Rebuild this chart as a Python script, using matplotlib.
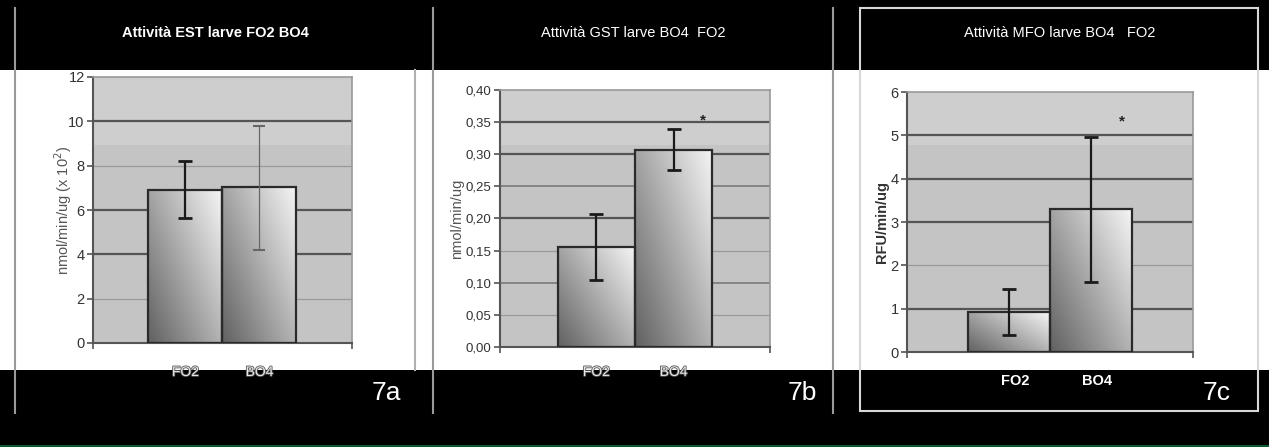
import numpy as np
import matplotlib
matplotlib.use('Agg')
import matplotlib.pyplot as plt
import matplotlib.patheffects as pe
from matplotlib.patches import Rectangle
from matplotlib.lines import Line2D

plt.rcParams['font.family'] = ['Liberation Sans', 'DejaVu Sans']

# data
groups = ['FO2', 'BO4']

est_mean = [6.9, 7.05]
est_low = [5.65, 4.2]
est_high = [8.2, 9.8]

gst_mean = [0.155, 0.307]
gst_low = [0.105, 0.275]
gst_high = [0.207, 0.340]

mfo_mean = [0.92, 3.3]
mfo_low = [0.40, 1.62]
mfo_high = [1.45, 4.97]

est_ticks = [0, 2, 4, 6, 8, 10, 12]
gst_ticks = [0.0, 0.05, 0.10, 0.15, 0.20, 0.25, 0.30, 0.35, 0.40]
gst_ticklabels = ['0,00', '0,05', '0,10', '0,15', '0,20', '0,25', '0,30', '0,35', '0,40']
mfo_ticks = [0, 1, 2, 3, 4, 5, 6]

titles = ['Attività EST larve FO2 BO4', 'Attività GST larve BO4  FO2', 'Attività MFO larve BO4   FO2']
ylabels = ['nmol/min/ug (x 10$^2$)', 'nmol/min/ug', 'RFU/min/ug']
panel_tags = ['7a', '7b', '7c']
star_y = [None, 0.352, 5.33]

W, H = 1269, 447
fig = plt.figure(figsize=(W / 100, H / 100), dpi=100, facecolor='black')


def px_rect(x0, y0, x1, y1):
    # pixel box (top-left origin) -> figure fraction rect
    return [x0 / W, 1 - y1 / H, (x1 - x0) / W, (y1 - y0) / H]


def fig_line(x0, y0, x1, y1, color, lw=1.5):
    fig.add_artist(Line2D([x0 / W, x1 / W], [1 - y0 / H, 1 - y1 / H],
                          transform=fig.transFigure, color=color, lw=lw))


# white band behind the plots
fig.add_artist(Rectangle((0, 1 - 370 / H), 1, 300 / H, transform=fig.transFigure,
                         facecolor='white', edgecolor='none', zorder=-1))
fig.add_artist(Rectangle((0, 0), 1, 2 / H, transform=fig.transFigure,
                         facecolor='#0d5a32', edgecolor='none'))

fig_line(15, 8, 15, 413, '#9a9a9a')
fig_line(415, 70, 415, 370, '#b0b0b0')
fig_line(433, 8, 433, 413, '#9a9a9a')
fig_line(833, 8, 833, 413, '#9a9a9a')
fig.add_artist(Rectangle((860 / W, 1 - 411 / H), 398 / W, 403 / H, transform=fig.transFigure,
                         facecolor='none', edgecolor='#d8d8d8', lw=1.5))

# gradient used to fill the bars
gy, gx = np.mgrid[0:1:200j, 0:1:60j]
grad = np.clip(0.38 + 0.58 * (0.55 * gx + 0.45 * gy), 0, 1)


def draw_panel(rect, means, lows, highs, ticks, ticklabels, ylim, grid_style, light_frac,
               title, title_x, title_bold, ylabel, ylabel_x, ylabel_bold, tag, tag_x,
               label_y, label_white, star, thin_err, tick_fs):
    ax = fig.add_axes(rect)
    ax.set_facecolor('#c4c4c4')
    ax.add_patch(Rectangle((0, light_frac), 1, 1 - light_frac, transform=ax.transAxes,
                           facecolor='#cecece', edgecolor='none', zorder=0))
    x = np.arange(len(groups))

    for t, (col, lw) in zip(ticks, grid_style):
        if lw > 0:
            ax.axhline(t, color=col, lw=lw, zorder=1)

    bars = ax.bar(x, means, width=1.0, facecolor='none', edgecolor='#2a2a2a', lw=1.6, zorder=3)
    for b in bars:
        im = ax.imshow(grad, cmap='gray', vmin=0, vmax=1, origin='lower', aspect='auto',
                       extent=[b.get_x(), b.get_x() + b.get_width(), 0, b.get_height()],
                       zorder=2)
        im.set_clip_path(b)
    ax.set_xlim(-1.25, 2.25)
    ax.set_ylim(*ylim)

    for i in range(len(groups)):
        err = [[means[i] - lows[i]], [highs[i] - means[i]]]
        if thin_err[i]:
            ax.errorbar(x[i], means[i], yerr=err, fmt='none', ecolor='#666666', elinewidth=0.9,
                        capsize=4, capthick=1.5, zorder=4)
        else:
            ax.errorbar(x[i], means[i], yerr=err, fmt='none', ecolor='#1a1a1a', elinewidth=1.6,
                        capsize=5, capthick=2, zorder=4)

    if star is not None:
        ax.text(1.38, star, '*', ha='center', va='center', fontsize=11, color='#222222',
                fontweight='bold', zorder=5)

    for s in ['top', 'right']:
        ax.spines[s].set_color('#999999')
        ax.spines[s].set_linewidth(1.2)
    for s in ['left', 'bottom']:
        ax.spines[s].set_color('#555555')
        ax.spines[s].set_linewidth(1.5)

    ax.set_yticks(ticks)
    ax.set_yticklabels(ticklabels, fontsize=tick_fs, color='#333333')
    ax.tick_params(axis='y', length=4, width=1.2, color='#555555', pad=2)
    ax.set_xticks([-1.25, 2.25])
    ax.set_xticklabels([])
    ax.tick_params(axis='x', length=4, width=1.2, color='#555555')

    for i, g in enumerate(groups):
        if label_white:
            ax.text(x[i] + 0.07, label_y, g, transform=ax.get_xaxis_transform(), ha='center',
                    va='center', fontsize=10.5, color='white', fontweight='bold', clip_on=False)
        else:
            ax.text(x[i], label_y, g, transform=ax.get_xaxis_transform(), ha='center',
                    va='center', fontsize=10, color='#e8e8e8', clip_on=False,
                    path_effects=[pe.withStroke(linewidth=1.2, foreground='#555555')])

    fig.text(title_x / W, 1 - 33 / H, title, ha='center', va='center', color='white',
             fontsize=10.5, fontweight='bold' if title_bold else 'normal')
    ax.text(ylabel_x, 0.5, ylabel, transform=ax.transAxes, rotation=90, ha='center', va='center',
            fontsize=10.5, color='#555555' if not ylabel_bold else '#333333',
            fontweight='bold' if ylabel_bold else 'normal')
    fig.text(tag_x / W, 1 - 393 / H, tag, ha='center', va='center', color='white', fontsize=19)
    return ax


light = ('#9a9a9a', 0.9)
dark = ('#555555', 1.6)
mid = ('#7a7a7a', 1.2)
none = ('', 0)

# panel 7a
draw_panel(px_rect(93, 77, 352, 343), est_mean, est_low, est_high, est_ticks,
           [str(t) for t in est_ticks], (0, 12),
           [none, light, dark, dark, light, dark, none],
           0.744, titles[0], 215, True, ylabels[0], -0.115, False, panel_tags[0], 386,
           -0.109, False, star_y[0], [False, True], 10.5)

# panel 7b
draw_panel(px_rect(500, 90, 770, 347), gst_mean, gst_low, gst_high, gst_ticks,
           gst_ticklabels, (0, 0.40),
           [none, light, mid, light, dark, mid, dark, dark, none],
           0.786, titles[1], 633, False, ylabels[1], -0.158, False, panel_tags[1], 802,
           -0.097, False, star_y[1], [False, False], 9.5)

# panel 7c
draw_panel(px_rect(907, 92, 1193, 352), mfo_mean, mfo_low, mfo_high, mfo_ticks,
           [str(t) for t in mfo_ticks], (0, 6),
           [none, dark, light, dark, dark, dark, none],
           0.796, titles[2], 1060, False, ylabels[2], -0.088, True, panel_tags[2], 1217,
           -0.112, True, star_y[2], [False, False], 10.5)

fig.savefig('out.png', dpi=100, facecolor='black')
